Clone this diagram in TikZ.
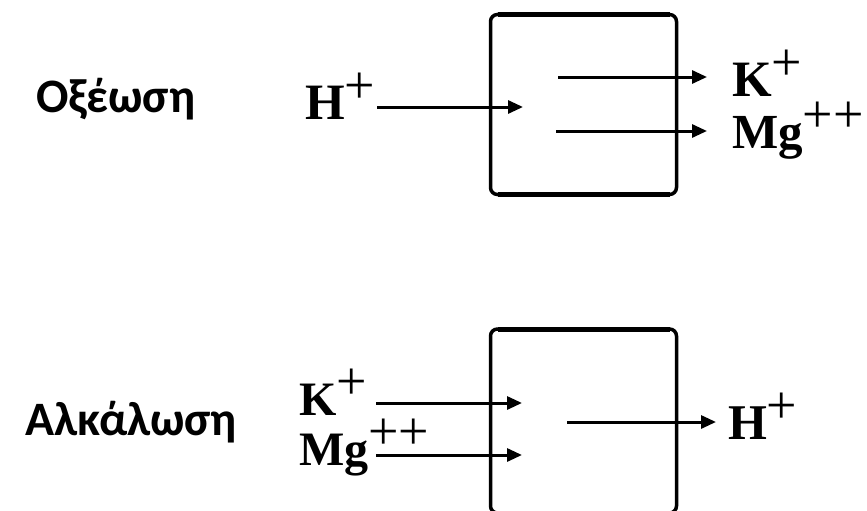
\documentclass[tikz,border=0pt]{standalone}
\usepackage{fontspec}
\setmainfont{Liberation Serif}
\newfontfamily\grk{Carlito}
\usetikzlibrary{arrows.meta}
\newcommand{\ionsz}[2]{{\fontsize{#1}{#1}\selectfont\bfseries #2}}
\newcommand{\plussz}[1]{\raisebox{15.5pt}{\fontsize{54}{54}\selectfont #1}}
\tikzset{
  ion/.style={inner sep=0pt, outer sep=0pt, anchor=base west},
  cell/.style={draw, line width=3.5pt, rounded corners=7pt, inner sep=0pt, outer sep=0pt},
  arr/.style={line width=3pt, -{Triangle[length=15pt,width=13pt]}},
  state/.style={inner sep=0pt, outer sep=0pt, anchor=base west, font=\grk\bfseries\fontsize{48}{48}\selectfont},
  thick edge/.style={line width=5pt}
}
\begin{document}
\begin{tikzpicture}[x=1pt,y=-1pt]
\useasboundingbox (0,0) rectangle (867,511);
\begin{scope}
\clip (0,0) rectangle (867,511);
% boxes
\node[cell, minimum width=186pt, minimum height=180pt] (box1) at (583.5,104.5) {};
\node[cell, minimum width=186pt, minimum height=184pt] (box2) at (583.5,421) {};
\draw[thick edge] ([xshift=7pt]box1.north west) -- ([xshift=-7pt]box1.north east);
\draw[thick edge] ([xshift=7pt]box1.south west) -- ([xshift=-7pt]box1.south east);
\draw[thick edge] ([xshift=7pt]box2.north west) -- ([xshift=-7pt]box2.north east);
\draw[thick edge] ([xshift=7pt]box2.south west) -- ([xshift=-7pt]box2.south east);
\end{scope}
% state labels
\node[state] (acid) at (36,112) {Οξέωση};
\node[state] (alk) at (25,435) {Αλκάλωση};
% top ions
\node[ion] (h1) at (305,119) {\ionsz{51}{H}\plussz{+}};
\node[ion] (k1) at (732,96) {\ionsz{51}{K}\plussz{+}};
\node[ion] (mg1) at (732,148) {\ionsz{49}{Mg}\plussz{++}};
% bottom ions
\node[ion] (k2) at (299,415) {\ionsz{48}{K}\plussz{+}};
\node[ion] (mg2) at (299,465) {\ionsz{48}{Mg}\plussz{++}};
\node[ion] (h2) at (728,439) {\ionsz{50}{H}\plussz{+}};
% arrow end points
\coordinate (h1s) at (377,107);  \coordinate (h1e) at (523,107);
\coordinate (k1s) at (558,77);   \coordinate (k1e) at (707,77);
\coordinate (m1s) at (556,131);  \coordinate (m1e) at (707,131);
\coordinate (k2s) at (376,403);  \coordinate (k2e) at (522,403);
\coordinate (m2s) at (376,455);  \coordinate (m2e) at (522,455);
\coordinate (h2s) at (567,422);  \coordinate (h2e) at (716,422);
\draw[arr] (h1s) -- (h1e);
\draw[arr] (k1s) -- (k1e);
\draw[arr] (m1s) -- (m1e);
\draw[arr] (k2s) -- (k2e);
\draw[arr] (m2s) -- (m2e);
\draw[arr] (h2s) -- (h2e);
\end{tikzpicture}
\end{document}
